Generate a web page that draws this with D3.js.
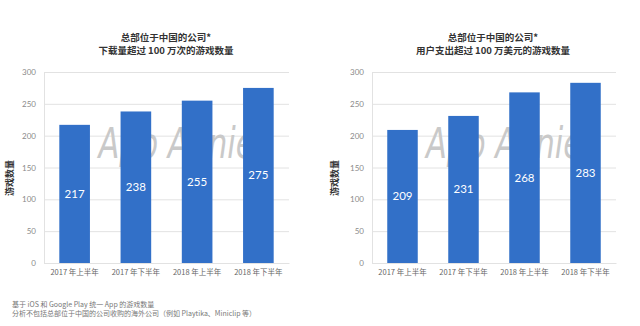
<!DOCTYPE html>
<html><head><meta charset="utf-8">
<script src="https://cdn.jsdelivr.net/npm/d3@7"></script>
<style>
html,body{margin:0;padding:0;background:#fff;}
svg{display:block;}
text{font-family:"Noto Sans CJK SC","Noto Sans",sans-serif;}
</style></head><body>
<svg id="c" width="640" height="326"></svg>
<script>
const categories = ["2017 年上半年", "2017 年下半年", "2018 年上半年", "2018 年下半年"];
const downloadsValues = [217, 238, 255, 275];
const revenueValues = [209, 231, 268, 283];
const yTicks = [0, 50, 100, 150, 200, 250, 300];
const titles1 = ["总部位于中国的公司*", "下载量超过 100 万次的游戏数量"];
const titles2 = ["总部位于中国的公司*", "用户支出超过 100 万美元的游戏数量"];
const yLabel = "游戏数量";
const footnotes = ["基于 iOS 和 Google Play 统一 App 的游戏数量", "分析不包括总部位于中国的公司收购的海外公司（例如 Playtika、Miniclip 等）"];

const svg = d3.select("#c");
const barColor = "#3270c8";

function drawChart(x0, x1, values, titleLines, titleX, yLabelX) {
  const top = 72, bottom = 263;
  const x = d3.scaleBand().domain(categories).range([x0, x1]).paddingInner(0.5).paddingOuter(0.25);
  const y = d3.scaleLinear().domain([0, 300]).range([bottom, top]);
  const g = svg.append("g");

  // grid
  g.selectAll("line.grid").data(yTicks).join("line")
    .attr("x1", x0).attr("x2", x1)
    .attr("y1", d => y(d) + 0.5).attr("y2", d => y(d) + 0.5)
    .attr("stroke", "#e2e2e2").attr("stroke-width", 1);

  // axis line left
  g.append("line").attr("x1", x0 + 0.5).attr("x2", x0 + 0.5).attr("y1", top).attr("y2", bottom)
    .attr("stroke", "#e2e2e2");

  // y axis
  const ya = d3.axisLeft(y).tickValues(yTicks).tickSize(0).tickPadding(8);
  const yg = g.append("g").attr("transform", `translate(${x0},0)`).call(ya);
  yg.select(".domain").remove();
  yg.selectAll("text").attr("fill", "#8a8a8a").style("font-size", "8px").style("font-family", "Lato, 'Noto Sans', sans-serif");

  // watermark (behind bars)
  g.append("text").attr("x", (x0 + x1) / 2 + 10).attr("y", 158)
    .attr("text-anchor", "middle")
    .attr("textLength", 156).attr("lengthAdjust", "spacingAndGlyphs")
    .style("font-family", "'Liberation Sans Narrow', 'DejaVu Sans Condensed', sans-serif").style("font-style", "italic")
    .style("font-size", "42px").attr("fill", "#c9c9c9")
    .text("App Annie");

  // bars
  g.selectAll("rect.bar").data(values).join("rect")
    .attr("x", (d, i) => x(categories[i])).attr("width", x.bandwidth())
    .attr("y", d => y(d)).attr("height", d => bottom - y(d))
    .attr("fill", barColor);

  // value labels
  g.selectAll("text.val").data(values).join("text")
    .attr("x", (d, i) => x(categories[i]) + x.bandwidth() / 2)
    .attr("y", d => (y(d) + bottom) / 2)
    .attr("dy", "0.35em").attr("text-anchor", "middle")
    .attr("fill", "#fff").style("font-size", "11.5px").style("font-family", "Lato, 'Noto Sans', sans-serif")
    .text(d => d);

  // x axis
  const xa = d3.axisBottom(x).tickSize(0).tickPadding(7);
  const xg = g.append("g").attr("transform", `translate(0,${bottom})`).call(xa);
  xg.select(".domain").attr("stroke", "#e2e2e2");
  xg.selectAll("text").attr("fill", "#666").style("font-size", "7.5px");

  // title
  titleLines.forEach((t, i) => {
    g.append("text").attr("x", titleX).attr("y", 40.5 + i * 13).attr("text-anchor", "middle")
      .style("font-size", "9.5px").style("font-weight", "bold").attr("fill", "#333").text(t);
  });

  // y label
  g.append("text").attr("transform", `translate(${yLabelX},178) rotate(-90)`)
    .attr("text-anchor", "middle").attr("dy", "0.35em")
    .style("font-size", "9px").style("font-weight", "bold").attr("fill", "#333").text(yLabel);
}

drawChart(44, 289, downloadsValues, titles1, 166, 10);
drawChart(372, 616, revenueValues, titles2, 493, 335);

footnotes.forEach((t, i) => {
  svg.append("text").attr("x", 12).attr("y", 307 + i * 9)
    .style("font-size", "7px").attr("fill", "#777").text(t);
});
</script>
</body></html>
